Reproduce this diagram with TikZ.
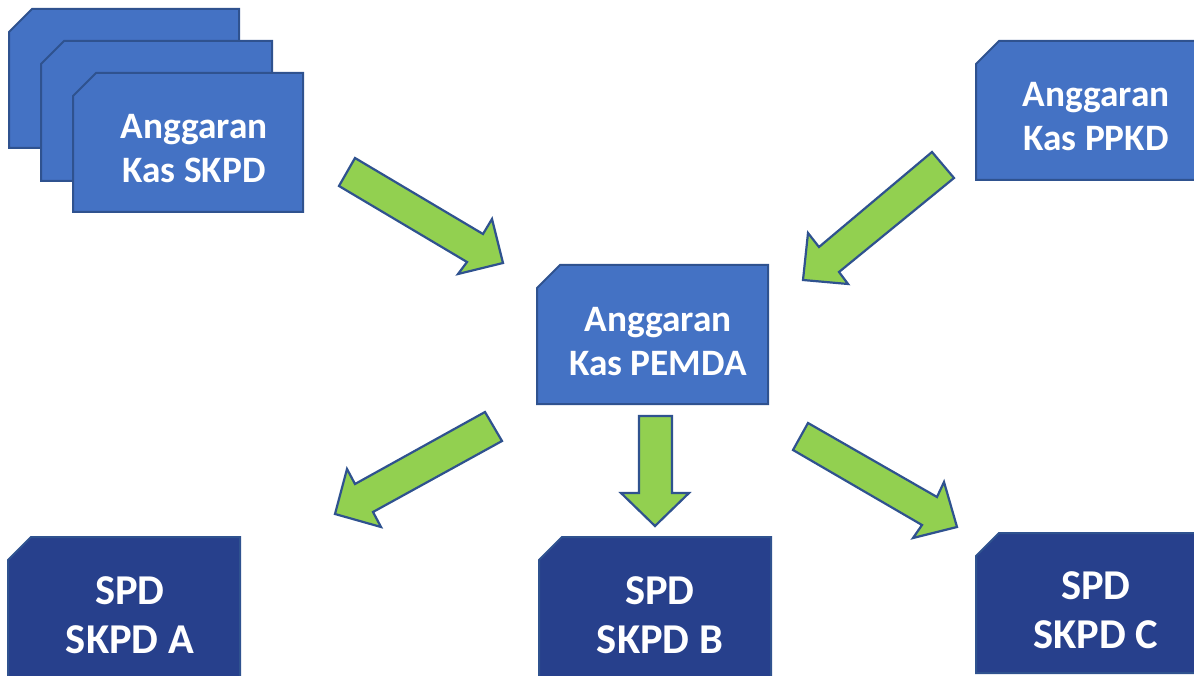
\documentclass[tikz,border=0pt]{standalone}
\usepackage{fontspec}
\setmainfont{Carlito}
\definecolor{boxlight}{RGB}{68,114,196}
\definecolor{boxdark}{RGB}{39,64,140}
\definecolor{edgeblue}{RGB}{47,82,143}
\definecolor{arrowgreen}{RGB}{146,208,80}
\newcommand\snipbox[5]{\draw[#5] (#1+23,#2) -- (#3,#2) -- (#3,#4) -- (#1,#4) -- (#1,#2+23) -- cycle;}
\tikzset{
  lightbox/.style={fill=boxlight, draw=edgeblue, line width=2pt, line join=miter},
  darkbox/.style={fill=boxdark, draw=edgeblue, line width=2pt, line join=miter},
  blockarrow/.style={fill=arrowgreen, draw=edgeblue, line width=2.2pt, line join=miter},
  label/.style={text=white, font=\fontsize{37.3}{44}\selectfont\bfseries, align=center, inner sep=0pt},
  spdlabel/.style={text=white, font=\fontsize{42.5}{49}\selectfont\bfseries, align=center, inner sep=0pt}
}
\begin{document}
\begin{tikzpicture}[x=1pt,y=-1pt]
\useasboundingbox (0,0) rectangle (1194,676);
\clip (0,0) rectangle (1194,676);
% stacked SKPD boxes
\snipbox{9}{9}{239}{148}{lightbox}
\snipbox{41}{41}{272}{181}{lightbox}
\snipbox{73}{73}{303}{212}{lightbox}
\node[label] (skpd) at (194,149) {Anggaran\\Kas SKPD};
% PPKD
\snipbox{976}{41}{1200}{180}{lightbox}
\node[label] (ppkd) at (1096,117) {Anggaran\\Kas PPKD};
% PEMDA
\snipbox{537}{265}{768}{404}{lightbox}
\node[label] (pemda) at (658,342) {Anggaran\\Kas PEMDA};
% SPD boxes
\snipbox{8}{537}{240}{690}{darkbox}
\node[label, spdlabel] (spda) at (130,615) {SPD\\SKPD A};
\snipbox{539}{537}{771}{690}{darkbox}
\node[label, spdlabel] (spdb) at (660,615) {SPD\\SKPD B};
\snipbox{976}{533}{1200}{673}{darkbox}
\node[label, spdlabel] (spdc) at (1096,610) {SPD\\SKPD C};
% block arrows
\draw[blockarrow] (355,158) -- (483,234) -- (492,219) -- (503,263) -- (458,274) -- (467,262) -- (339,186) -- cycle;
\draw[blockarrow] (932,152) -- (954,178) -- (839,272) -- (848,284) -- (803,280) -- (808,233) -- (819,247) -- cycle;
\draw[blockarrow] (485,412) -- (502,441) -- (373,512) -- (381,527) -- (335,514) -- (347,469) -- (355,484) -- cycle;
\draw[blockarrow] (639,416) -- (672,416) -- (672,493) -- (689,493) -- (655,526) -- (621,493) -- (639,493) -- cycle;
\draw[blockarrow] (808,423) -- (937,497) -- (944,482) -- (957,527) -- (913,538) -- (922,525) -- (793,450) -- cycle;
\end{tikzpicture}
\end{document}
